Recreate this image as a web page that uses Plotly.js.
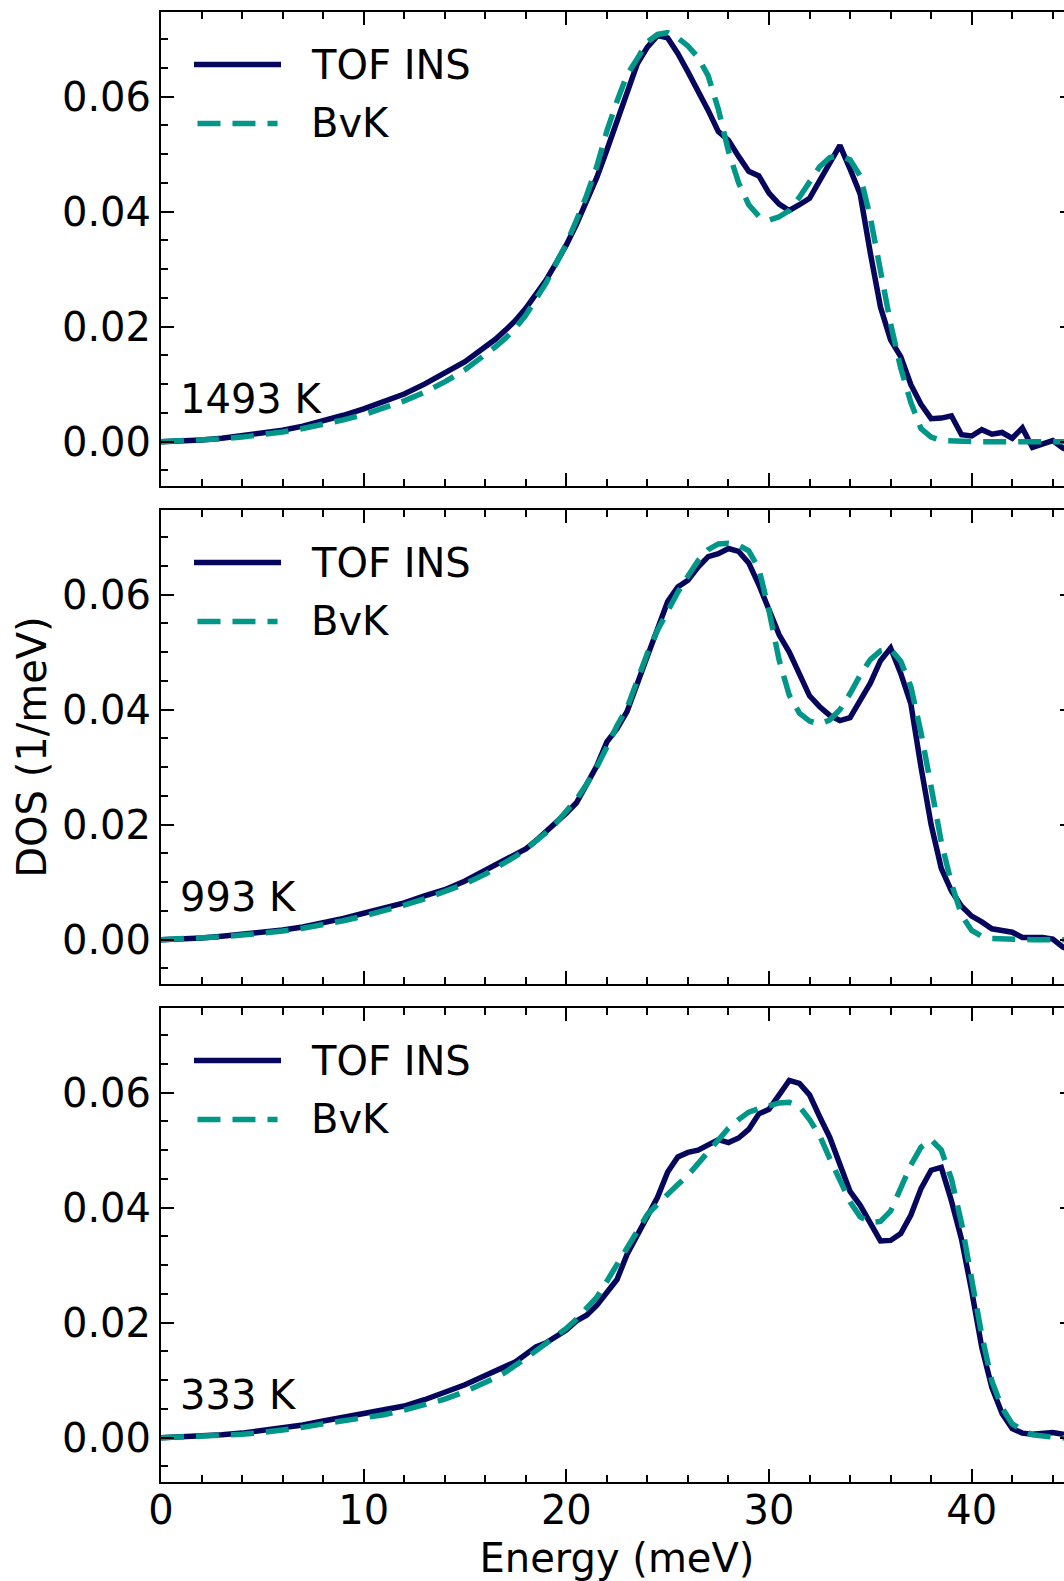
<!DOCTYPE html>
<html>
<head>
<meta charset="utf-8">
<script src="https://cdn.plot.ly/plotly-3.0.1.min.js"></script>
<style>
  html, body { margin: 0; padding: 0; overflow: hidden; background: #ffffff; }
  #chart { width: 1077px; height: 1581px; }
</style>
</head>
<body>
<div id="chart"></div>
<script>
// Phonon energy grid (meV)
const energy = [
  0, 1, 2, 3, 4, 5, 6, 7, 8, 9, 10, 11, 12, 13, 14, 15, 16,
  16.5, 17, 17.5, 18, 18.5, 19, 19.5, 20,
  20.5, 21, 21.5, 22, 22.5, 23, 23.5, 24, 24.5, 25,
  25.5, 26, 26.5, 27, 27.5, 28, 28.5, 29, 29.5, 30,
  30.5, 31, 31.5, 32, 32.5, 33, 33.5, 34, 34.5, 35,
  35.5, 36, 36.5, 37, 37.5, 38, 38.5, 39, 39.5, 40,
  40.5, 41, 41.5, 42, 42.5, 43, 43.5, 44, 44.5, 45
];

const seriesNames = ['TOF INS', 'BvK'];
const temperatureLabels = ['1493 K', '993 K', '333 K'];

// 1493 K
const tof1493 = [
  0, 0.0001, 0.0003, 0.0006, 0.0010, 0.0014, 0.0020, 0.0027, 0.0036, 0.0046, 0.0057, 0.0069, 0.0083, 0.0100, 0.0119, 0.0139, 0.0165,
  0.0178, 0.0194, 0.0211, 0.0232, 0.0256, 0.0281, 0.0311, 0.0342,
  0.0378, 0.0418, 0.0459, 0.0507, 0.0555, 0.0605, 0.0657, 0.0686, 0.0706, 0.0702,
  0.0675, 0.0643, 0.0611, 0.0576, 0.0539, 0.0524, 0.0496, 0.0470, 0.0462, 0.0432,
  0.0413, 0.0402, 0.0412, 0.0423, 0.0454, 0.0486, 0.0515, 0.0474, 0.0430, 0.0328,
  0.0234, 0.0177, 0.0148, 0.0099, 0.0065, 0.0040, 0.0041, 0.0045, 0.0012, 0.0010,
  0.0021, 0.0013, 0.0016, 0.0006, 0.0024, -0.0010, -0.0004, 0.0002, -0.0011, -0.0018
];
const bvk1493 = [
  0, 0.0001, 0.0002, 0.0005, 0.0008, 0.0012, 0.0017, 0.0023, 0.0030, 0.0038, 0.0047, 0.0058, 0.0071, 0.0086, 0.0104, 0.0125, 0.0150,
  0.0165, 0.0180, 0.0198, 0.0220, 0.0246, 0.0276, 0.0310, 0.0344,
  0.0385, 0.0428, 0.0478, 0.0540, 0.0592, 0.0638, 0.0666, 0.0695, 0.0708, 0.0711,
  0.0702, 0.0688, 0.0668, 0.0636, 0.0578, 0.0505, 0.0450, 0.0412, 0.0392, 0.0385,
  0.0391, 0.0402, 0.0425, 0.0452, 0.0478, 0.0494, 0.0497, 0.0490, 0.0462, 0.0390,
  0.0293, 0.0205, 0.0128, 0.0068, 0.0023, 0.0008, 0.0002, 0.0001, 0, 0,
  0, 0, 0, 0, 0, 0, 0, 0, 0, 0
];

// 993 K
const tof993 = [
  0, 0.0001, 0.0003, 0.0006, 0.0009, 0.0013, 0.0017, 0.0022, 0.0029, 0.0037, 0.0046, 0.0055, 0.0064, 0.0076, 0.0087, 0.0102, 0.0120,
  0.0130, 0.0138, 0.0148, 0.0158, 0.0172, 0.0187, 0.0205, 0.0220,
  0.0238, 0.0268, 0.0302, 0.0344, 0.0367, 0.0397, 0.0448, 0.0493, 0.0540, 0.0588,
  0.0613, 0.0625, 0.0648, 0.0666, 0.0671, 0.0680, 0.0675, 0.0655, 0.0617, 0.0574,
  0.0530, 0.0500, 0.0462, 0.0424, 0.0405, 0.0390, 0.0381, 0.0386, 0.0416, 0.0446,
  0.0485, 0.0507, 0.0463, 0.0410, 0.0300, 0.0200, 0.0124, 0.0085, 0.0058, 0.0041,
  0.0031, 0.0019, 0.0016, 0.0013, 0.0004, 0.0004, 0.0004, 0.0001, -0.0013, -0.0020
];
const bvk993 = [
  0, 0.0001, 0.0002, 0.0005, 0.0008, 0.0011, 0.0015, 0.0020, 0.0026, 0.0033, 0.0041, 0.0050, 0.0060, 0.0071, 0.0083, 0.0097, 0.0114,
  0.0124, 0.0134, 0.0145, 0.0157, 0.0171, 0.0186, 0.0203, 0.0222,
  0.0244, 0.0270, 0.0300, 0.0335, 0.0372, 0.0403, 0.0450, 0.0498, 0.0538, 0.0572,
  0.0604, 0.0632, 0.0659, 0.0678, 0.0688, 0.0689, 0.0686, 0.0676, 0.0645, 0.0572,
  0.0486, 0.0425, 0.0394, 0.0380, 0.0375, 0.0382, 0.0400, 0.0428, 0.0460, 0.0487,
  0.0502, 0.0505, 0.0484, 0.0440, 0.0360, 0.0266, 0.0170, 0.0098, 0.0043, 0.0016,
  0.0006, 0.0002, 0.0001, 0, 0, 0, 0, 0, 0, 0
];

// 333 K
const tof333 = [
  0, 0.0001, 0.0003, 0.0005, 0.0008, 0.0012, 0.0017, 0.0022, 0.0029, 0.0035, 0.0041, 0.0048, 0.0055, 0.0066, 0.0078, 0.0092, 0.0108,
  0.0117, 0.0124, 0.0132, 0.0146, 0.0158, 0.0165, 0.0176, 0.0187,
  0.0203, 0.0213, 0.0230, 0.0254, 0.0275, 0.0319, 0.0352, 0.0384, 0.0418, 0.0462,
  0.0488, 0.0496, 0.0500, 0.0509, 0.0518, 0.0513, 0.0521, 0.0536, 0.0563, 0.0571,
  0.0595, 0.0621, 0.0616, 0.0596, 0.0558, 0.0522, 0.0475, 0.0428, 0.0404, 0.0374,
  0.0342, 0.0343, 0.0355, 0.0387, 0.0433, 0.0465, 0.0470, 0.0412, 0.0345, 0.0255,
  0.0157, 0.0087, 0.0042, 0.0016, 0.0008, 0.0006, 0.0007, 0.0009, 0.0006, 0.0005
];
const bvk333 = [
  0, 0.0001, 0.0002, 0.0004, 0.0006, 0.0009, 0.0013, 0.0018, 0.0024, 0.0029, 0.0034, 0.0040, 0.0048, 0.0057, 0.0067, 0.0080, 0.0095,
  0.0104, 0.0114, 0.0125, 0.0138, 0.0151, 0.0164, 0.0177, 0.0190,
  0.0206, 0.0224, 0.0244, 0.0272, 0.0300, 0.0328, 0.0360, 0.0388, 0.0406, 0.0424,
  0.0440, 0.0456, 0.0476, 0.0498, 0.0518, 0.0538, 0.0553, 0.0566, 0.0572, 0.0577,
  0.0582, 0.0583, 0.0576, 0.0553, 0.0525, 0.0485, 0.0445, 0.0410, 0.0384, 0.0374,
  0.0376, 0.0394, 0.0434, 0.0474, 0.0505, 0.0518, 0.0500, 0.0450, 0.0373, 0.0270,
  0.0178, 0.0098, 0.0052, 0.0024, 0.0013, 0.0005, 0.0002, 0.0001, 0, 0
];

const NAVY = '#06065c';
const TEAL = '#009688';
const FONT = 'DejaVu Sans, Verdana, sans-serif';
const LINE_W = 5.5;
const DASH = '23px,12px';

// top to bottom: axis suffix, vertical domain, series
const panels = [
  { label: temperatureLabels[0], tof: tof1493, bvk: bvk1493, ax: '3', domain: [0.67755, 1.0] },
  { label: temperatureLabels[1], tof: tof993,  bvk: bvk993,  ax: '2', domain: [0.33878, 0.66122] },
  { label: temperatureLabels[2], tof: tof333,  bvk: bvk333,  ax: '',  domain: [0.0, 0.32245] }
];

const tickFont = { family: FONT, size: 40, color: '#000000' };

function xAxisLayout(anchor, showLabels) {
  return {
    range: [0, 45], anchor: anchor,
    showline: true, linecolor: '#000000', linewidth: 2, mirror: 'allticks',
    ticks: 'inside', ticklen: 13, tickwidth: 2, tickcolor: '#000000',
    tick0: 0, dtick: 10, showticklabels: showLabels, tickfont: tickFont,
    ticklabelstandoff: -8,
    showgrid: false, zeroline: false, fixedrange: true,
    minor: { ticks: 'inside', ticklen: 7, tickwidth: 2, tickcolor: '#000000', tick0: 0, dtick: 2, showgrid: false }
  };
}
function yAxisLayout(anchor, domain) {
  return {
    range: [-0.0077, 0.0747], anchor: anchor, domain: domain,
    showline: true, linecolor: '#000000', linewidth: 2, mirror: 'allticks',
    ticks: 'inside', ticklen: 13, tickwidth: 2, tickcolor: '#000000',
    tick0: 0, dtick: 0.02, tickformat: '.2f', tickfont: tickFont,
    showgrid: false, zeroline: false, fixedrange: true,
    minor: { ticks: 'inside', ticklen: 7, tickwidth: 2, tickcolor: '#000000', tick0: 0, dtick: 0.005, showgrid: false }
  };
}

const traces = [];
const shapes = [];
const annotations = [];
const layout = {
  width: 1077, height: 1581,
  margin: { l: 161, r: 4, t: 12, b: 99, pad: 0 },
  paper_bgcolor: '#ffffff', plot_bgcolor: '#ffffff',
  showlegend: false,
  font: { family: FONT, size: 40, color: '#000000' }
};

panels.forEach(function (p) {
  const xa = 'x' + p.ax, ya = 'y' + p.ax;
  traces.push({
    x: energy, y: p.tof, xaxis: xa, yaxis: ya, type: 'scatter', mode: 'lines',
    name: seriesNames[0], line: { color: NAVY, width: LINE_W }
  });
  traces.push({
    x: energy, y: p.bvk, xaxis: xa, yaxis: ya, type: 'scatter', mode: 'lines',
    name: seriesNames[1], line: { color: TEAL, width: LINE_W, dash: DASH }
  });

  const isBottom = p.ax === '';
  layout['xaxis' + p.ax] = xAxisLayout(ya, isBottom);
  layout['yaxis' + p.ax] = yAxisLayout(xa, p.domain);

  // legend block drawn inside each panel
  const xr = xa + ' domain', yr = ya + ' domain';
  const rowTof = 0.8892, rowBvk = 0.7648;
  shapes.push({ type: 'line', xref: xr, yref: yr, x0: 0.0362, x1: 0.1316, y0: rowTof, y1: rowTof,
                line: { color: NAVY, width: LINE_W } });
  shapes.push({ type: 'line', xref: xr, yref: yr, x0: 0.0400, x1: 0.1278, y0: rowBvk, y1: rowBvk,
                line: { color: TEAL, width: LINE_W, dash: DASH } });
  annotations.push({ xref: xr, yref: yr, x: 0.1623, y: rowTof, xanchor: 'left', yanchor: 'middle',
                     text: seriesNames[0], showarrow: false, font: tickFont });
  annotations.push({ xref: xr, yref: yr, x: 0.1623, y: rowBvk, xanchor: 'left', yanchor: 'middle',
                     text: seriesNames[1], showarrow: false, font: tickFont });
  // temperature tag
  annotations.push({ xref: xr, yref: yr, x: 0.0185, y: 0.184, xanchor: 'left', yanchor: 'middle',
                     text: p.label, showarrow: false, font: tickFont });
});

layout.xaxis.title = { text: 'Energy (meV)', font: { family: FONT, size: 40, color: '#000000' }, standoff: 14 };
layout.yaxis2.title = { text: 'DOS (1/meV)', font: { family: FONT, size: 40, color: '#000000' }, standoff: 3 };
layout.shapes = shapes;
layout.annotations = annotations;

Plotly.newPlot('chart', traces, layout, { displayModeBar: false, staticPlot: true });
</script>
</body>
</html>
